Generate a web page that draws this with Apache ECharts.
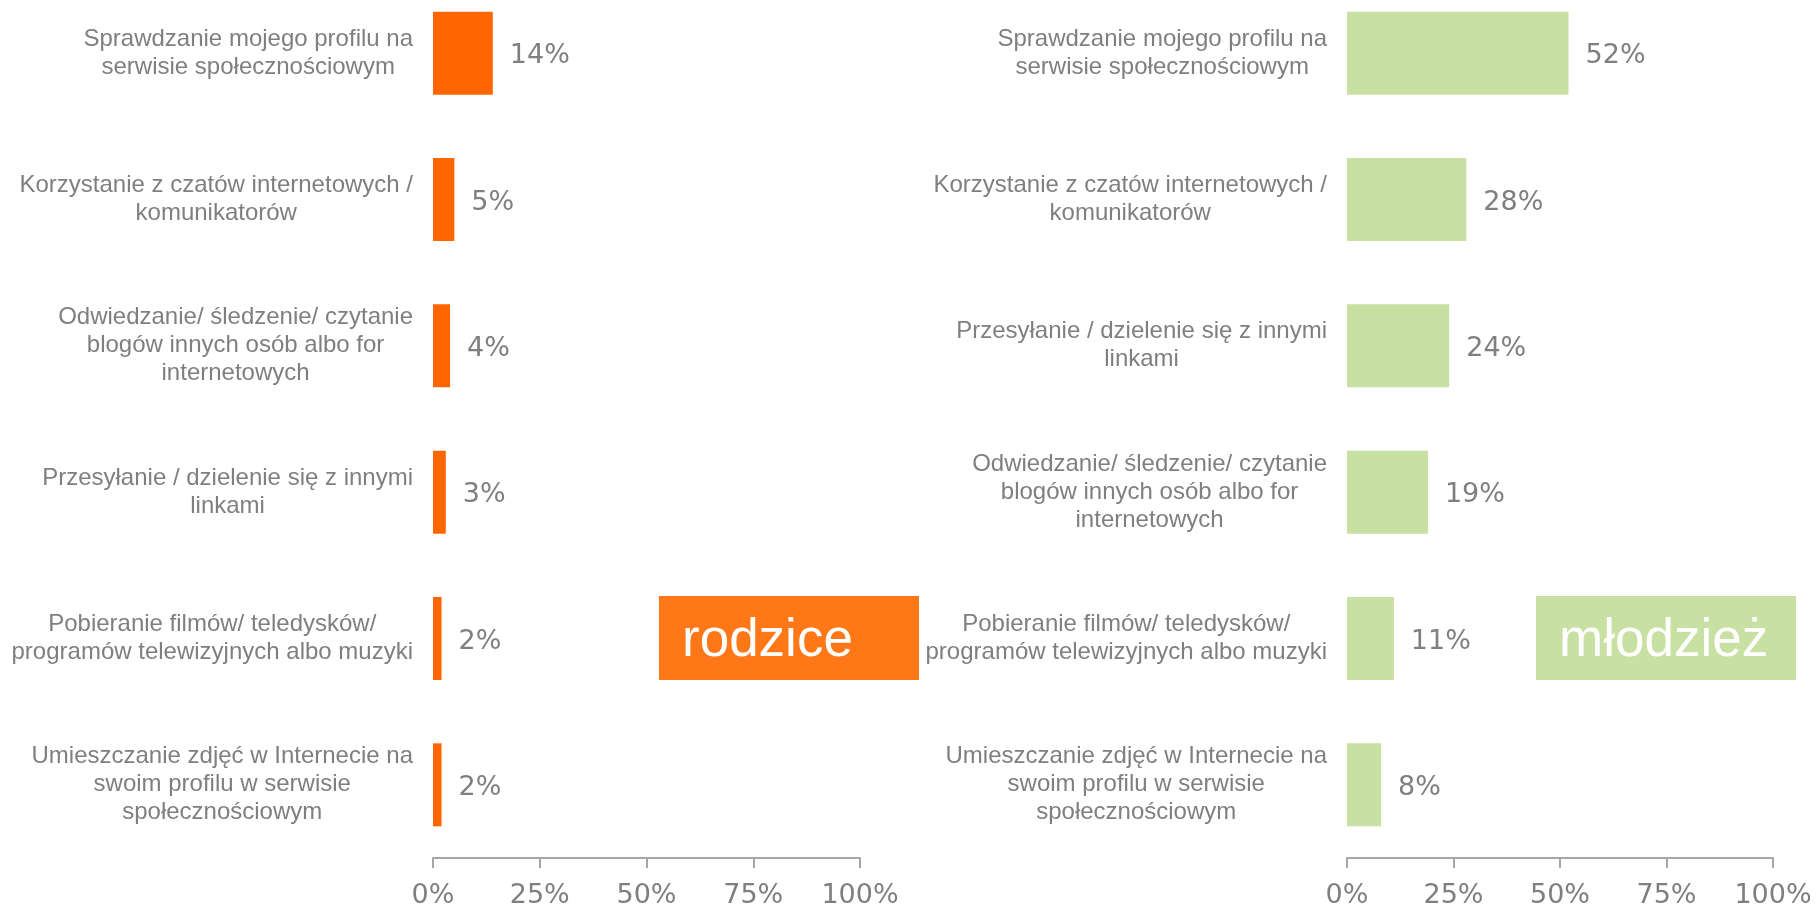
<!DOCTYPE html>
<html>
<head>
<meta charset="utf-8">
<script src="https://cdn.jsdelivr.net/npm/echarts@6/dist/echarts.min.js"></script>
<style>
  html, body { margin: 0; padding: 0; background: #fff; }
  #chart { width: 1816px; height: 907px; }
</style>
</head>
<body>
<div id="chart"></div>
<script>
// categories and values, top to bottom
var parentCats = [
    'Sprawdzanie mojego profilu na\nserwisie społecznościowym',
    'Korzystanie z czatów internetowych /\nkomunikatorów',
    'Odwiedzanie/ śledzenie/ czytanie\nblogów innych osób albo for\ninternetowych',
    'Przesyłanie / dzielenie się z innymi\nlinkami',
    'Pobieranie filmów/ teledysków/\nprogramów telewizyjnych albo muzyki',
    'Umieszczanie zdjęć w Internecie na\nswoim profilu w serwisie\nspołecznościowym'
];
var parentValues = [14, 5, 4, 3, 2, 2];

var youthCats = [
    'Sprawdzanie mojego profilu na\nserwisie społecznościowym',
    'Korzystanie z czatów internetowych /\nkomunikatorów',
    'Przesyłanie / dzielenie się z innymi\nlinkami',
    'Odwiedzanie/ śledzenie/ czytanie\nblogów innych osób albo for\ninternetowych',
    'Pobieranie filmów/ teledysków/\nprogramów telewizyjnych albo muzyki',
    'Umieszczanie zdjęć w Internecie na\nswoim profilu w serwisie\nspołecznościowym'
];
var youthValues = [52, 28, 24, 19, 11, 8];

var xTicks = [0, 25, 50, 75, 100];

var grey = '#7f7f7f';

// center every line of the label inside its block
function centerLines(v) {
    return v.split('\n').map(function (s) { return '{c|' + s + '}'; }).join('\n');
}

function makeY(idx, cats) {
    return {
        type: 'category',
        gridIndex: idx,
        inverse: true,
        data: cats,
        axisLine: { show: false },
        axisTick: { show: false },
        axisLabel: {
            margin: 20,
            formatter: centerLines,
            rich: {
                c: {
                    align: 'center',
                    fontFamily: 'Liberation Sans',
                    fontSize: 24,
                    lineHeight: 28,
                    color: grey
                }
            }
        }
    };
}

function makeX(idx) {
    return {
        type: 'value',
        gridIndex: idx,
        min: xTicks[0],
        max: xTicks[xTicks.length - 1],
        interval: 25,
        splitLine: { show: false },
        axisLine: { show: true, lineStyle: { color: '#a6a6a6', width: 2 } },
        axisTick: { show: true, length: 10, lineStyle: { color: '#a6a6a6', width: 2 } },
        axisLabel: {
            margin: 24,
            fontFamily: 'DejaVu Sans',
            fontSize: 27,
            color: grey,
            formatter: '{value}%'
        }
    };
}

function makeSeries(idx, values, color) {
    return {
        type: 'bar',
        xAxisIndex: idx,
        yAxisIndex: idx,
        data: values,
        barWidth: 83,
        itemStyle: { color: color },
        label: {
            show: true,
            position: 'right',
            distance: 17,
            offset: [0, 3],
            fontFamily: 'DejaVu Sans',
            fontSize: 27,
            color: grey,
            formatter: '{c}%'
        },
        silent: true
    };
}

function box(left, color, text) {
    return {
        type: 'group',
        left: left,
        top: 596,
        children: [
            { type: 'rect', shape: { x: 0, y: 0, width: 260, height: 84 }, style: { fill: color } },
            {
                type: 'text', x: 23, y: 45,
                style: {
                    text: text, fill: '#fff', fontFamily: 'Liberation Sans',
                    fontSize: 53, verticalAlign: 'middle'
                }
            }
        ]
    };
}

var option = {
    animation: false,
    grid: [
        { left: 433, right: 956, top: -20, bottom: 49, outerBoundsMode: 'none' },
        { left: 1347, right: 43, top: -20, bottom: 49, outerBoundsMode: 'none' }
    ],
    xAxis: [makeX(0), makeX(1)],
    yAxis: [makeY(0, parentCats), makeY(1, youthCats)],
    series: [
        makeSeries(0, parentValues, '#ff6600'),
        makeSeries(1, youthValues, '#c8e0a2')
    ],
    graphic: [
        box(659, '#ff7716', 'rodzice'),
        box(1536, '#c9e0a3', 'młodzież')
    ]
};

var chart = echarts.init(document.getElementById('chart'));
chart.setOption(option);

window.addEventListener('resize', function () {
    chart.resize();
});
</script>
</body>
</html>
